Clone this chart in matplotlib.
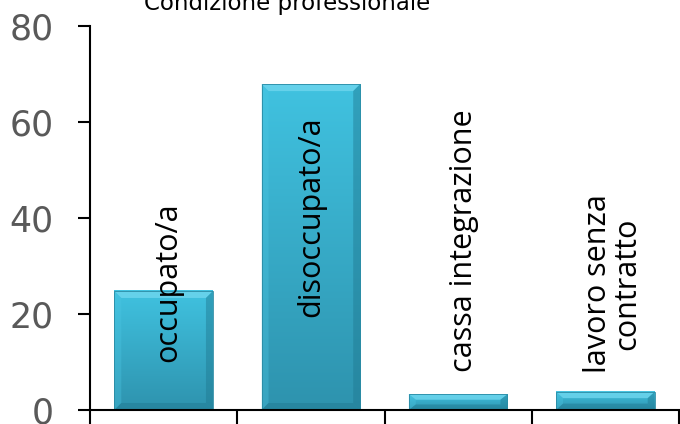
import matplotlib.pyplot as plt
import numpy as np
from matplotlib.patches import Polygon, Rectangle

categories = ["occupato/a", "disoccupato/a", "cassa integrazione", "lavoro senza\ncontratto"]
values = [24.8, 67.9, 3.3, 3.8]
yticks = [0, 20, 40, 60, 80]
title = "Condizione professionale"

# label placement (x offset in category units, bottom of text in data units)
label_dx = [0.03, 0.0, 0.04, 0.05]
label_bottom = [10.0, 19.4, 8.0, 7.7]

W, H = 680, 424
fig = plt.figure(figsize=(W / 100, H / 100), dpi=100)
ax = fig.add_axes([90 / W, (H - 410) / H, 589 / W, 384 / H])
ax.set_xlim(-0.5, 3.5)
ax.set_ylim(0, 80)

bw = 0.67
top_c = np.array([0x40, 0xc2, 0xe0]) / 255
bot_c = np.array([0x2e, 0x93, 0xae]) / 255
px_x = 147.25  # pixels per category
px_y = 384 / 80  # pixels per unit
bx, by = 7 / px_x, 7 / px_y

for i, v in enumerate(values):
    x0, x1 = i - bw / 2, i + bw / 2
    t = np.linspace(0, 1, 64)[:, None]
    grad = (top_c * (1 - t[..., None]) + bot_c * t[..., None])
    grad = np.repeat(grad, 2, axis=1)
    ax.imshow(grad, extent=(x0, x1, 0, v), aspect="auto", zorder=2, interpolation="bilinear")
    byy = min(by, v * 0.35)
    bxx = bx
    # bevels
    ax.add_patch(Polygon([(x0, v), (x1, v), (x1 - bxx, v - byy), (x0 + bxx, v - byy)],
                         fc="#6fd6ee", ec="none", alpha=0.8, zorder=3))
    ax.add_patch(Polygon([(x0, 0), (x0, v), (x0 + bxx, v - byy), (x0 + bxx, byy)],
                         fc="#4cc6e3", ec="none", alpha=0.35, zorder=3))
    ax.add_patch(Polygon([(x1, 0), (x1, v), (x1 - bxx, v - byy), (x1 - bxx, byy)],
                         fc="#1f7890", ec="none", alpha=0.45, zorder=3))
    ax.add_patch(Polygon([(x0, 0), (x1, 0), (x1 - bxx, byy), (x0 + bxx, byy)],
                         fc="#1f7890", ec="none", alpha=0.45, zorder=3))
    ax.add_patch(Rectangle((x0, 0), bw, v, fc="none", ec="#2a8aa3", lw=0.6, zorder=4))
    ax.text(i + label_dx[i], label_bottom[i], categories[i], rotation=90,
            ha="center", va="bottom", multialignment="center", linespacing=0.95,
            fontsize=22, family="Open Sans", color="black", zorder=5)

for s in ["top", "right"]:
    ax.spines[s].set_visible(False)
ax.spines["left"].set_linewidth(1.5)
ax.spines["bottom"].set_linewidth(1.5)
ax.spines["bottom"].set_zorder(6)

ax.set_yticks(yticks)
ax.set_yticklabels([str(t) for t in yticks], fontsize=25, color="#595959", family="DejaVu Sans")
ax.tick_params(axis="y", direction="out", length=9, width=1.5, pad=17)
ax.set_xticks([-0.5, 0.5, 1.5, 2.5, 3.5])
ax.set_xticklabels([])
ax.tick_params(axis="x", direction="out", length=12, width=1.5)
ax.set_xlim(-0.5, 3.5)
ax.set_ylim(0, 80)

fig.text(287 / W, 1 - 10 / H, title, ha="center", va="baseline", fontsize=16.5,
         family="DejaVu Sans", color="black")

fig.savefig("out.png", dpi=100)
